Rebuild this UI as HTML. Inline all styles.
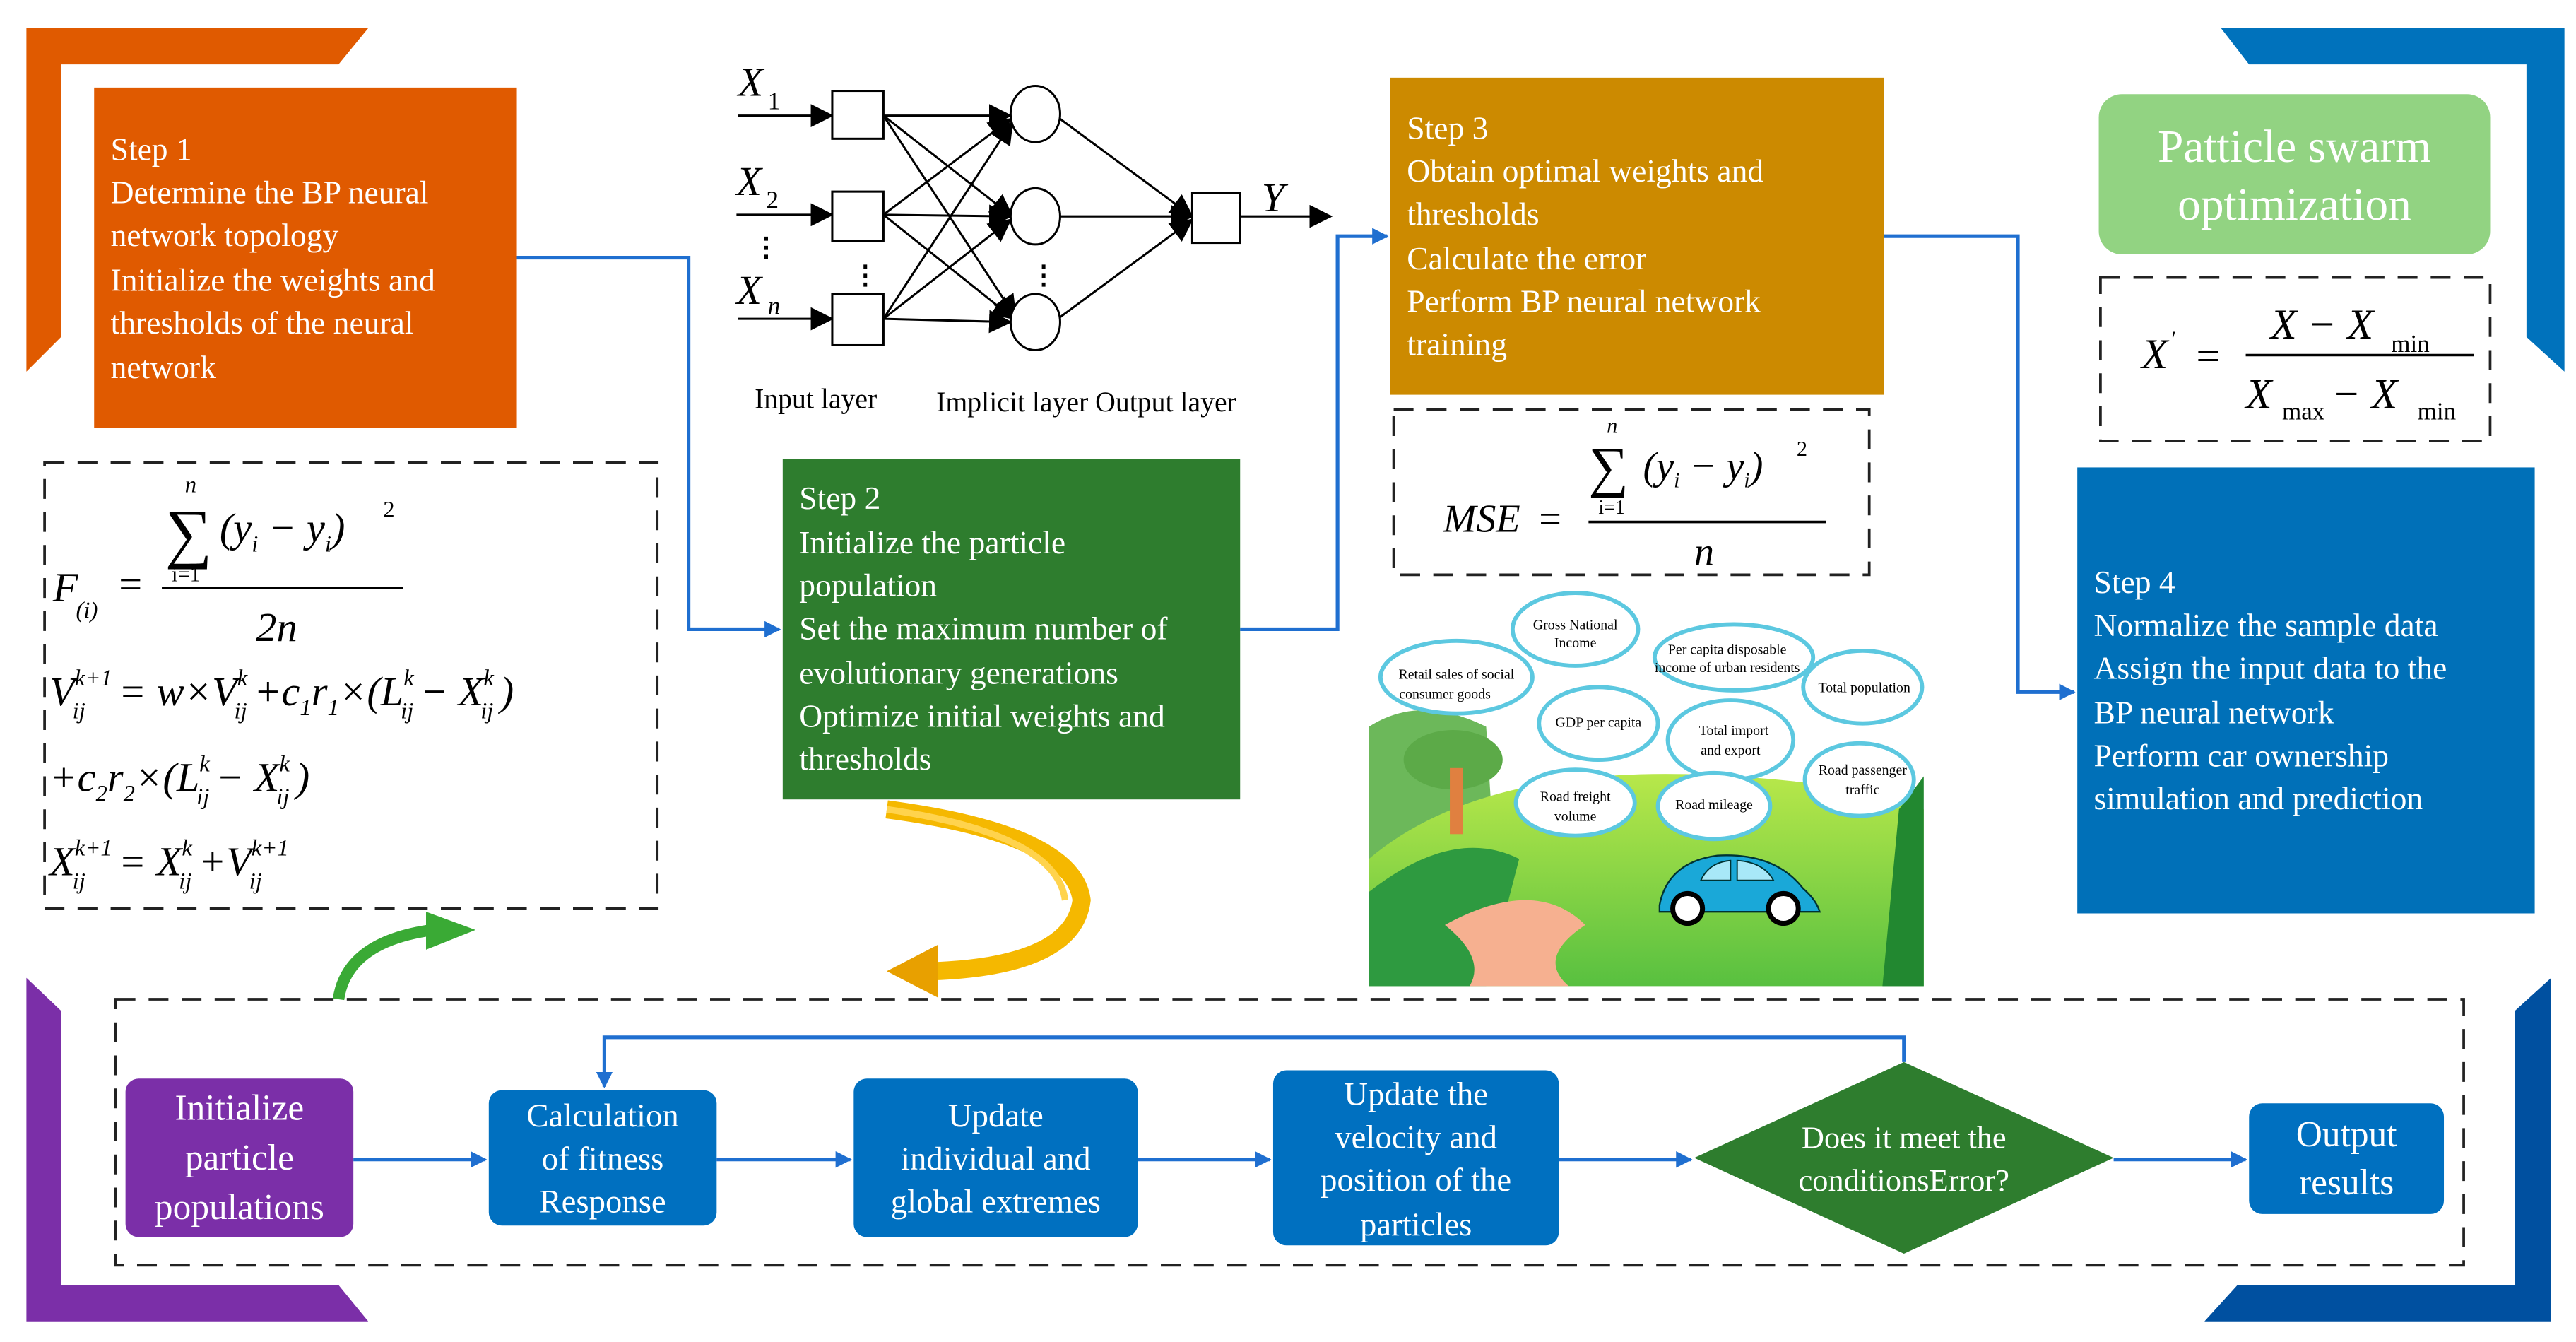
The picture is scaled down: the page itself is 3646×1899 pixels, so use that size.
<!DOCTYPE html>
<html><head><meta charset="utf-8"><style>
html,body{margin:0;padding:0;background:#fff}
svg{display:block}
text{font-family:"Liberation Serif",serif}
</style></head><body>
<svg width="3646" height="1899" viewBox="0 0 1560 812.5" preserveAspectRatio="none" xmlns="http://www.w3.org/2000/svg">
<defs>
<marker id="ab" markerWidth="10" markerHeight="10" refX="9" refY="5" orient="auto" markerUnits="userSpaceOnUse"><path d="M0,0 L18,5 L0,10z" fill="#1F6FD0" transform="scale(0.55,1)"/></marker>
<marker id="ak" markerWidth="14" markerHeight="14" refX="13" refY="7" orient="auto" markerUnits="userSpaceOnUse"><path d="M0,0 L14,7 L0,14z" fill="#000"/></marker>
<linearGradient id="grass" x1="0" y1="0" x2="0" y2="1"><stop offset="0" stop-color="#B8E84A"/><stop offset="1" stop-color="#58C040"/></linearGradient>
</defs>

<!-- corner brackets -->
<polygon points="16,17 223,17 205,39 37,39 37,204 16,225" fill="#E05A00"/>
<polygon points="1553,17 1345,17 1362,39 1530,39 1530,204 1553,225" fill="#0072BC"/>
<polygon points="16,800 16,592 37,612 37,778 205,778 223,800" fill="#7B2FA8"/>
<polygon points="1545,800 1545,592 1523,612 1523,778 1355,778 1335,800" fill="#0050A0"/>

<!-- Step 1 -->
<rect x="57" y="53" width="256" height="206" fill="#E05A00"/>
<g fill="#fff" font-size="19.5">
<text x="67" y="97">Step 1</text>
<text x="67" y="123">Determine the BP neural</text>
<text x="67" y="149">network topology</text>
<text x="67" y="176">Initialize the weights and</text>
<text x="67" y="202">thresholds of the neural</text>
<text x="67" y="229">network</text>
</g>

<!-- Step 2 -->
<rect x="474" y="278" width="277" height="206" fill="#2E7D2E"/>
<g fill="#fff" font-size="19.5">
<text x="484" y="308">Step 2</text>
<text x="484" y="335">Initialize the particle</text>
<text x="484" y="361">population</text>
<text x="484" y="387">Set the maximum number of</text>
<text x="484" y="414">evolutionary generations</text>
<text x="484" y="440">Optimize initial weights and</text>
<text x="484" y="466">thresholds</text>
</g>

<!-- Step 3 -->
<rect x="842" y="47" width="299" height="192" fill="#CC8A00"/>
<g fill="#fff" font-size="19.5">
<text x="852" y="84">Step 3</text>
<text x="852" y="110">Obtain optimal weights and</text>
<text x="852" y="136">thresholds</text>
<text x="852" y="163">Calculate the error</text>
<text x="852" y="189">Perform BP neural network</text>
<text x="852" y="215">training</text>
</g>

<!-- Step 4 -->
<rect x="1258" y="283" width="277" height="270" fill="#0070B8"/>
<g fill="#fff" font-size="19.5">
<text x="1268" y="359">Step 4</text>
<text x="1268" y="385">Normalize the sample data</text>
<text x="1268" y="411">Assign the input data to the</text>
<text x="1268" y="438">BP neural network</text>
<text x="1268" y="464">Perform car ownership</text>
<text x="1268" y="490">simulation and prediction</text>
</g>

<!-- PSO -->
<rect x="1271" y="57" width="237" height="97" rx="14" fill="#92D382"/>
<text x="1389.5" y="98" font-size="28" fill="#fff" text-anchor="middle">Patticle swarm</text>
<text x="1389.5" y="133" font-size="28" fill="#fff" text-anchor="middle">optimization</text>

<!-- dashed boxes -->
<g fill="none" stroke="#222" stroke-width="1.6" stroke-dasharray="12,8">
<rect x="1272" y="168" width="236" height="99"/>
<rect x="844" y="248" width="288" height="100"/>
<rect x="27" y="280" width="371" height="270"/>
<rect x="70" y="605" width="1422" height="161"/>
</g>

<!-- X' formula -->
<g font-style="italic" font-size="26">
<text x="1297" y="223">X</text><text x="1314" y="210" font-size="14">'</text>
<text x="1330" y="224" font-style="normal">=</text>
<text x="1375" y="205">X − X</text><text x="1448" y="213" font-size="15" font-style="normal">min</text>
<line x1="1360" y1="215" x2="1498" y2="215" stroke="#000" stroke-width="1.5"/>
<text x="1360" y="247">X</text><text x="1382" y="254" font-size="15" font-style="normal">max</text>
<text x="1412" y="247">− X</text><text x="1464" y="254" font-size="15" font-style="normal">min</text>
</g>

<!-- MSE -->
<g font-style="italic" font-size="24">
<text x="874" y="322">MSE</text><text x="932" y="322" font-style="normal">=</text>
<text x="973" y="262" font-size="13">n</text>
<text x="962" y="294" font-style="normal" font-size="34">∑</text>
<text x="968" y="311" font-size="12" font-style="normal">i=1</text>
<text x="995" y="290">(y<tspan font-size="13" dy="5">i</tspan><tspan dy="-5"> − y</tspan><tspan font-size="13" dy="5">i</tspan><tspan dy="-5">)</tspan></text>
<text x="1088" y="276" font-size="13" font-style="normal">2</text>
<line x1="962" y1="316" x2="1106" y2="316" stroke="#000" stroke-width="1.5"/>
<text x="1026" y="342">n</text>
</g>

<!-- left formulas -->
<g font-style="italic" font-size="25">
<text x="112" y="298" font-size="14">n</text>
<text x="100" y="336" font-style="normal" font-size="40">∑</text>
<text x="104" y="352" font-size="13" font-style="normal">i=1</text>
<text x="133" y="328">(y<tspan font-size="14" dy="6">i</tspan><tspan dy="-6"> − y</tspan><tspan font-size="14" dy="6">i</tspan><tspan dy="-6">)</tspan></text>
<text x="232" y="313" font-size="14" font-style="normal">2</text>
<text x="32" y="364">F</text><text x="46" y="374" font-size="14">(i)</text>
<text x="72" y="362" font-style="normal">=</text>
<line x1="98" y1="356" x2="244" y2="356" stroke="#000" stroke-width="1.5"/>
<text x="155" y="388">2n</text>
<text x="30" y="427">V<tspan font-size="14" dy="-12">k+1</tspan><tspan font-size="14" dy="20" dx="-24">ij</tspan><tspan dy="-8" dx="20">= w×V</tspan><tspan font-size="14" dy="-12">k</tspan><tspan font-size="14" dy="20" dx="-8">ij</tspan><tspan dy="-8" dx="4">+c</tspan><tspan font-size="14" dy="6">1</tspan><tspan dy="-6">r</tspan><tspan font-size="14" dy="6">1</tspan><tspan dy="-6">×(L</tspan><tspan font-size="14" dy="-12">k</tspan><tspan font-size="14" dy="20" dx="-8">ij</tspan><tspan dy="-8" dx="4">− X</tspan><tspan font-size="14" dy="-12">k</tspan><tspan font-size="14" dy="20" dx="-8">ij</tspan><tspan dy="-8" dx="4">)</tspan></text>
<text x="30" y="479">+c<tspan font-size="14" dy="6">2</tspan><tspan dy="-6">r</tspan><tspan font-size="14" dy="6">2</tspan><tspan dy="-6">×(L</tspan><tspan font-size="14" dy="-12">k</tspan><tspan font-size="14" dy="20" dx="-8">ij</tspan><tspan dy="-8" dx="4">− X</tspan><tspan font-size="14" dy="-12">k</tspan><tspan font-size="14" dy="20" dx="-8">ij</tspan><tspan dy="-8" dx="4">)</tspan></text>
<text x="30" y="530">X<tspan font-size="14" dy="-12">k+1</tspan><tspan font-size="14" dy="20" dx="-24">ij</tspan><tspan dy="-8" dx="20">= X</tspan><tspan font-size="14" dy="-12">k</tspan><tspan font-size="14" dy="20" dx="-8">ij</tspan><tspan dy="-8" dx="4">+V</tspan><tspan font-size="14" dy="-12">k+1</tspan><tspan font-size="14" dy="20" dx="-24">ij</tspan></text>
</g>

<!-- Neural network -->
<g stroke="#000" stroke-width="1.3" fill="none">
<line x1="447" y1="70" x2="504" y2="70" marker-end="url(#ak)"/>
<line x1="446" y1="130" x2="504" y2="130" marker-end="url(#ak)"/>
<line x1="447" y1="193" x2="504" y2="193" marker-end="url(#ak)"/>
<rect x="504" y="55" width="31" height="29" fill="#fff"/>
<rect x="504" y="116" width="31" height="30" fill="#fff"/>
<rect x="504" y="178" width="31" height="31" fill="#fff"/>
<g marker-end="url(#ak)">
<line x1="535" y1="70" x2="612" y2="70"/><line x1="535" y1="70" x2="613" y2="131"/><line x1="535" y1="70" x2="615" y2="192"/>
<line x1="535" y1="130" x2="612" y2="72"/><line x1="535" y1="130" x2="612" y2="131"/><line x1="535" y1="130" x2="614" y2="193"/>
<line x1="535" y1="193" x2="613" y2="74"/><line x1="535" y1="193" x2="612" y2="133"/><line x1="535" y1="193" x2="612" y2="195"/>
<line x1="642" y1="72" x2="722" y2="131"/><line x1="642" y1="131" x2="722" y2="131"/><line x1="642" y1="192" x2="722" y2="133"/>
<line x1="751" y1="131" x2="806" y2="131"/>
</g>
<ellipse cx="627" cy="69" rx="15" ry="17" fill="#fff"/>
<ellipse cx="627" cy="131" rx="15" ry="17" fill="#fff"/>
<ellipse cx="627" cy="195" rx="15" ry="17" fill="#fff"/>
<rect x="722" y="117" width="29" height="30" fill="#fff"/>
</g>
<g font-style="italic" font-size="25">
<text x="447" y="58">X</text><text x="465" y="66" font-size="15" font-style="normal">1</text>
<text x="446" y="118">X</text><text x="464" y="126" font-size="15" font-style="normal">2</text>
<text x="446" y="184">X</text><text x="465" y="190" font-size="15">n</text>
<text x="764" y="128">Y</text>
</g>
<g font-size="16" font-weight="bold" fill="#000">
<text x="456" y="155">⋮</text><text x="516" y="172">⋮</text><text x="624" y="172">⋮</text>
</g>
<g font-size="17"><text x="457" y="247">Input layer</text><text x="567" y="249">Implicit layer Output layer</text></g>

<!-- Car scene -->
<g>
<rect x="829" y="370" width="336" height="227" fill="#fff"/>
<path d="M829,440 Q860,420 900,440 L905,520 L829,560z" fill="#6CB85A"/>
<path d="M829,597 L829,520 Q900,460 1050,470 Q1130,475 1165,490 L1165,597z" fill="url(#grass)"/>
<path d="M829,597 L829,540 Q880,500 920,520 L900,597z" fill="#2E9A40"/>
<path d="M875,560 Q930,530 960,560 Q930,580 950,597 L890,597 Q900,580 875,560z" fill="#F6B090"/>
<ellipse cx="880" cy="460" rx="30" ry="18" fill="#5CAA48"/>
<rect x="878" y="465" width="8" height="40" fill="#E08040"/>
<path d="M1150,490 L1165,470 L1165,597 L1140,597z" fill="#228830"/>
<!-- clouds -->
<g fill="#fff" stroke="#5CC8E0" stroke-width="2.5">
<ellipse cx="882" cy="410" rx="46" ry="22"/>
<ellipse cx="954" cy="381" rx="38" ry="22"/>
<ellipse cx="1050" cy="398" rx="48" ry="20"/>
<ellipse cx="1128" cy="416" rx="36" ry="22"/>
<ellipse cx="968" cy="438" rx="36" ry="22"/>
<ellipse cx="1048" cy="448" rx="38" ry="24"/>
<ellipse cx="1126" cy="472" rx="33" ry="22"/>
<ellipse cx="954" cy="486" rx="36" ry="20"/>
<ellipse cx="1038" cy="488" rx="34" ry="20"/>
</g>
<g font-size="8.5" text-anchor="middle" fill="#000">
<text x="882" y="411">Retail sales of social</text><text x="875" y="423">consumer goods</text>
<text x="954" y="381">Gross National</text><text x="954" y="392">Income</text>
<text x="1046" y="396">Per capita disposable</text><text x="1046" y="407">income of urban residents</text>
<text x="1129" y="419">Total population</text>
<text x="968" y="440">GDP per capita</text>
<text x="1050" y="445">Total import</text><text x="1048" y="457">and export</text>
<text x="1128" y="469">Road passenger</text><text x="1128" y="481">traffic</text>
<text x="954" y="485">Road freight</text><text x="954" y="497">volume</text>
<text x="1038" y="490">Road mileage</text>
</g>
<!-- car -->
<path d="M1005,548 Q1010,522 1040,518 Q1075,516 1092,538 Q1100,545 1102,552 L1005,552z" fill="#1AA8D8" stroke="#033" stroke-width="1"/>
<circle cx="1022" cy="550" r="9" fill="#fff" stroke="#000" stroke-width="3"/>
<circle cx="1080" cy="550" r="9" fill="#fff" stroke="#000" stroke-width="3"/>
<path d="M1030,533 Q1035,522 1048,521 L1048,533z M1052,521 Q1068,522 1074,533 L1052,533z" fill="#A8E8F8" stroke="#033" stroke-width="0.8"/>
</g>

<!-- connectors -->
<g stroke="#1F6FD0" stroke-width="2.2" fill="none">
<polyline points="313,156 417,156 417,381 472,381" marker-end="url(#ab)"/>
<polyline points="751,381 810,381 810,143 840,143" marker-end="url(#ab)"/>
<polyline points="1141,143 1222,143 1222,419 1256,419" marker-end="url(#ab)"/>
<line x1="214" y1="702" x2="294" y2="702" marker-end="url(#ab)"/>
<line x1="434" y1="702" x2="515" y2="702" marker-end="url(#ab)"/>
<line x1="689" y1="702" x2="769" y2="702" marker-end="url(#ab)"/>
<line x1="944" y1="702" x2="1024" y2="702" marker-end="url(#ab)"/>
<line x1="1280" y1="702" x2="1360" y2="702" marker-end="url(#ab)"/>
<polyline points="1153,643 1153,628 366,628 366,658" marker-end="url(#ab)"/>
</g>

<!-- curved arrows -->
<path d="M205,605 Q210,570 262,563" stroke="#3AAA35" stroke-width="7" fill="none"/>
<polygon points="258,552 288,563 258,575" fill="#3AAA35"/>
<path d="M537,490 Q650,505 655,545 Q650,585 565,588" stroke="#F5B800" stroke-width="11" fill="none"/>
<path d="M537,490 Q640,505 645,545" stroke="#FFD34D" stroke-width="4" fill="none"/>
<polygon points="568,572 537,588 568,604" fill="#E8A000"/>

<!-- bottom flow boxes -->
<rect x="76" y="653" width="138" height="96" rx="8" fill="#7B2FA8"/>
<g fill="#fff" font-size="22" text-anchor="middle">
<text x="145" y="678">Initialize</text><text x="145" y="708">particle</text><text x="145" y="738">populations</text>
</g>
<rect x="296" y="660" width="138" height="82" rx="8" fill="#0070C0"/>
<g fill="#fff" font-size="20" text-anchor="middle">
<text x="365" y="682">Calculation</text><text x="365" y="708">of fitness</text><text x="365" y="734">Response</text>
</g>
<rect x="517" y="653" width="172" height="96" rx="8" fill="#0070C0"/>
<g fill="#fff" font-size="20" text-anchor="middle">
<text x="603" y="682">Update</text><text x="603" y="708">individual and</text><text x="603" y="734">global extremes</text>
</g>
<rect x="771" y="648" width="173" height="106" rx="8" fill="#0070C0"/>
<g fill="#fff" font-size="20" text-anchor="middle">
<text x="857.5" y="669">Update the</text><text x="857.5" y="695">velocity and</text><text x="857.5" y="721">position of the</text><text x="857.5" y="748">particles</text>
</g>
<polygon points="1153,643 1280,701 1153,759 1026,701" fill="#2E7D2E"/>
<g fill="#fff" font-size="19" text-anchor="middle">
<text x="1153" y="695">Does it meet the</text><text x="1153" y="721">conditionsError?</text>
</g>
<rect x="1362" y="668" width="118" height="67" rx="8" fill="#0070C0"/>
<g fill="#fff" font-size="22" text-anchor="middle">
<text x="1421" y="694">Output</text><text x="1421" y="723">results</text>
</g>
</svg>
</body></html>
